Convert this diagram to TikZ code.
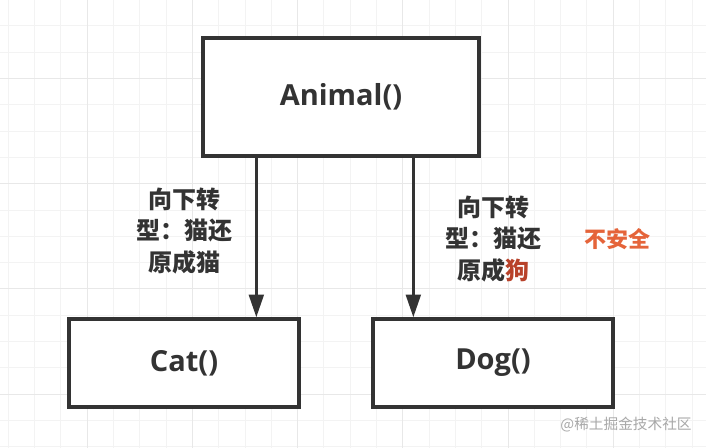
\documentclass[tikz,border=0pt]{standalone}
\usepackage{fontspec}
\setmainfont{Open Sans}
\newfontfamily\cjk{Noto Sans CJK SC}
\usetikzlibrary{arrows.meta}
\definecolor{inkgray}{HTML}{333333}
\definecolor{gridminor}{HTML}{F3F3F3}
\definecolor{gridmajor}{HTML}{E8E8E8}
\definecolor{warnorange}{HTML}{E5643A}
\definecolor{dogred}{HTML}{B8422A}
\definecolor{markgray}{HTML}{A8A8A8}
\tikzset{every picture/.style={line width=0.75pt}}
\tikzset{
	classbox/.style={draw=inkgray, line width=2.5pt, fill=white, text=inkgray, inner sep=0pt,
		font=\bfseries\fontsize{21.75}{26}\selectfont},
	castnote/.style={text=inkgray, align=center, font=\cjk\bfseries\fontsize{18}{23.6}\selectfont},
	castarrow/.style={draw=inkgray, line width=2.2pt, -{Triangle[length=17pt,width=11pt]}}}

\begin{document}
\begin{tikzpicture}[x=0.75pt,y=0.75pt,yscale=-1,xscale=1]
	\useasboundingbox (0,0) rectangle (706,448);
	\fill[white] (0,0) rectangle (706,448);

	% Grid
	\foreach \k in {0,...,26} {
		\pgfmathsetmacro{\gx}{8.3+26.3*\k}
		\draw[gridminor] (\gx,0) -- (\gx,448);}
	\foreach \k in {1,...,17} {
		\pgfmathsetmacro{\gy}{26.3*\k-0.3}
		\draw[gridminor] (0,\gy) -- (706,\gy);}
	\foreach \k in {0,...,6} {
		\pgfmathsetmacro{\gx}{8.3+26.3*(3+4*\k)}
		\draw[gridmajor] (\gx,0) -- (\gx,448);}
	\foreach \k in {0,...,3} {
		\pgfmathsetmacro{\gy}{26.3*(3+4*\k)-0.3}
		\draw[gridmajor] (0,\gy) -- (706,\gy);}

	% Class boxes
	\node[classbox, minimum width=207pt, minimum height=88.5pt] (animal) at (341,97) {Animal()};
	\node[classbox, minimum width=172.5pt, minimum height=66pt] (cat) at (184,363) {Cat()};
	\node[classbox, minimum width=180pt, minimum height=66pt] (dog) at (493,363) {Dog()};

	% Arrows
	\path (animal.south west) ++(55,0) coordinate (catfoot) ++(157,0) coordinate (dogfoot);
	\draw[castarrow] (catfoot) -- (catfoot |- cat.north);
	\draw[castarrow] (dogfoot) -- (dogfoot |- dog.north);

	% Text Node
	\node[castnote] (catnote) at (184,231) {向下转\\型：猫还\\原成猫};
	% Text Node
	\node[castnote] (dognote) at (493,239) {向下转\\型：猫还\\原成\textcolor{dogred}{狗}};
	% Text Node
	\node[text=warnorange, font=\cjk\bfseries\fontsize{16.5}{20}\selectfont] (unsafe) at (617,239) {不安全};
	% Text Node
	\node[text=markgray, font=\cjk\fontsize{11}{13}\selectfont] (mark) at (626,425) {@稀土掘金技术社区};

\end{tikzpicture}
\end{document}
